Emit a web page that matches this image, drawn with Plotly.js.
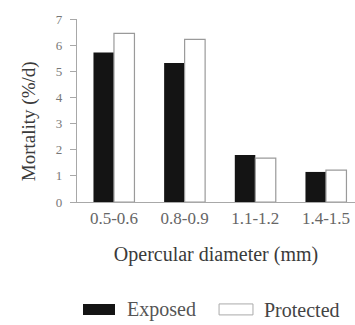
<!DOCTYPE html>
<html>
<head>
<meta charset="utf-8">
<script src="https://cdn.plot.ly/plotly-3.0.1.min.js"></script>
<style>html,body{margin:0;padding:0;background:#fff;}#chart{width:355px;height:325px;}</style>
</head>
<body>
<div id="chart"></div>
<script>
const categories = ["0.5-0.6", "0.8-0.9", "1.1-1.2", "1.4-1.5"];
const exposed = [5.72, 5.32, 1.8, 1.15];
const protectedVals = [6.45, 6.22, 1.68, 1.22];
const yTicks = [0, 1, 2, 3, 4, 5, 6, 7];
const seriesNames = ["Exposed", "Protected"];

const FONT = "Liberation Serif, Times New Roman, serif";

const traces = [
  {type: "bar", name: seriesNames[0], x: categories, y: exposed,
   marker: {color: "#141414", line: {color: "#141414", width: 0}}, showlegend: false},
  {type: "bar", name: seriesNames[1], x: categories, y: protectedVals,
   marker: {color: "#ffffff", line: {color: "#9a9a9a", width: 1.2}}, showlegend: false}
];

const layout = {
  width: 355, height: 325,
  margin: {l: 77, r: 0, t: 19, b: 123},
  paper_bgcolor: "#fff", plot_bgcolor: "#fff",
  barmode: "group", bargap: 0.42, bargroupgap: 0,
  font: {family: FONT, color: "#444"},
  xaxis: {
    type: "category", range: [-0.523, 3.411],
    showline: true, linecolor: "#a8a8a8", linewidth: 1.2,
    ticks: "", showgrid: false, zeroline: false,
    tickfont: {family: FONT, size: 17, color: "#666"},
    title: {text: "Opercular diameter (mm)", font: {family: FONT, size: 20, color: "#3a3a3a"}, standoff: 20}
  },
  yaxis: {
    range: [0, 7], tickvals: yTicks, ticktext: yTicks.map(String),
    showline: true, linecolor: "#a8a8a8", linewidth: 1.2,
    ticks: "outside", ticklen: 6, tickcolor: "#a8a8a8", tickwidth: 1,
    ticklabelstandoff: 5,
    showgrid: false, zeroline: false,
    tickfont: {family: FONT, size: 13, color: "#777"}
  },
  annotations: [
    {xref: "paper", yref: "paper", x: -0.17, y: 0.44, xanchor: "center", yanchor: "middle",
     text: "Mortality (%/d)", textangle: -90, showarrow: false,
     font: {family: FONT, size: 19, color: "#3a3a3a"}},
    {xref: "paper", yref: "paper", x: 0.173, y: -0.59, xanchor: "left", yanchor: "middle",
     text: seriesNames[0], showarrow: false, font: {family: FONT, size: 20, color: "#555"}},
    {xref: "paper", yref: "paper", x: 0.665, y: -0.59, xanchor: "left", yanchor: "middle",
     text: seriesNames[1], showarrow: false, font: {family: FONT, size: 20, color: "#444"}}
  ],
  shapes: [
    {type: "rect", xref: "paper", yref: "paper", x0: 0.0216, x1: 0.1367, y0: -0.617, y1: -0.557,
     fillcolor: "#141414", line: {width: 0}},
    {type: "rect", xref: "paper", yref: "paper", x0: 0.511, x1: 0.633, y0: -0.617, y1: -0.557,
     fillcolor: "#fff", line: {color: "#aaa", width: 1}}
  ]
};

Plotly.newPlot("chart", traces, layout, {displayModeBar: false, staticPlot: true});
</script>
</body>
</html>
